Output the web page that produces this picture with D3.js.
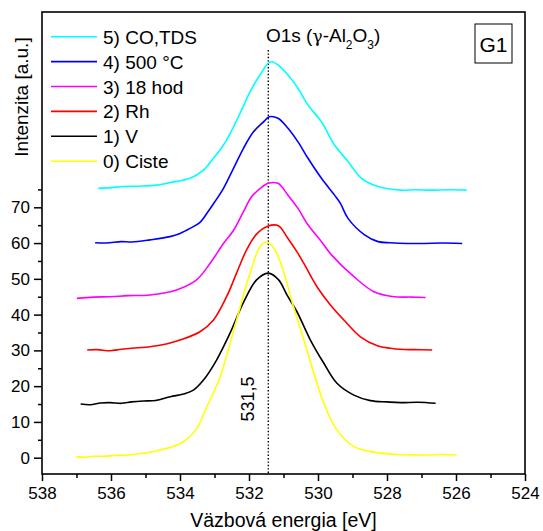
<!DOCTYPE html>
<html><head><meta charset="utf-8">
<script src="https://cdn.jsdelivr.net/npm/d3@7"></script>
<style>
html,body{margin:0;padding:0;background:#fff;}
text{font-family:"Liberation Sans",Arial,sans-serif;fill:#000;}
</style></head>
<body><svg id="c" width="543" height="531"></svg>
<script>
// ---- data ----
const seriesNames = ["0) Ciste","1) V","2) Rh","3) 18 hod","4) 500 °C","5) CO,TDS"];
const seriesColors = ["#ffff00","#000000","#ff0000","#ff00ff","#0000ff","#00ffff"];

const eCiste = [537.0,536.8,536.5,536.2,535.9,535.54,535.0,534.57,534.09,533.8,533.51,533.22,532.84,532.36,531.97,531.68,531.49,531.3,531.09,530.71,530.41,530.12,529.83,529.45,528.96,528.48,528.1,527.8,527.3,526.83,526.4,525.98];
const iCiste = [0.3,0.1,0.4,0.4,0.6,0.75,1.3,2.15,3.55,5.2,8.2,14.3,22.5,38.5,51.6,59.0,60.3,58.8,54.8,42.2,32.9,23.6,15.2,7.7,3.1,1.7,1.2,0.95,0.8,0.75,0.9,0.75];

const eV = [536.88,536.6,536.3,536.03,535.7,535.4,535.06,534.7,534.28,533.9,533.61,533.32,532.94,532.55,532.17,531.78,531.44,531.14,530.9,530.61,530.22,529.83,529.45,528.96,528.48,528.0,527.61,527.1,526.59];
const iV = [15.0,14.8,15.3,15.4,15.2,15.6,15.85,16.0,17.05,17.8,18.9,21.7,27.3,34.8,43.2,49.7,51.6,49.7,45.5,40.8,32.9,26.4,20.8,17.5,15.95,15.6,15.4,15.5,15.2];

const eRh = [536.69,536.4,536.03,535.7,535.4,534.87,534.4,534.0,533.42,533.03,532.65,532.36,532.07,531.78,531.46,531.16,530.87,530.58,530.41,530.03,529.64,529.25,528.77,528.28,527.9,527.61,527.2,526.69];
const iRh = [30.1,30.2,29.9,30.3,30.6,31.0,31.8,32.9,35.2,38.5,45.0,51.6,58.1,62.5,64.7,64.9,61.3,57.1,54.3,47.8,42.7,38.5,33.8,31.3,30.6,30.3,30.2,30.1];

const eHod = [536.99,536.5,536.03,535.5,534.87,534.1,533.52,533.13,532.74,532.45,532.16,531.92,531.68,531.44,531.16,530.87,530.58,530.29,529.9,529.61,528.96,528.38,527.8,527.3,526.88];
const iHod = [44.55,44.9,45.0,45.3,45.5,46.9,49.7,54.3,59.9,63.5,68.8,73.0,75.2,76.7,76.7,73.4,69.7,65.1,60.4,56.7,50.6,46.4,45.0,44.9,44.8];

const e500 = [536.46,536.2,536.03,535.7,535.4,534.87,534.29,534.0,533.71,533.42,533.2,533.0,532.74,532.45,532.16,531.87,531.58,531.41,531.16,530.87,530.58,530.29,529.9,529.52,529.35,529.13,528.65,528.26,527.9,527.4,526.93,526.4,525.82];
const i500 = [60.1,60.0,60.1,60.4,60.3,60.9,61.8,62.7,64.1,65.8,68.6,71.4,75.3,80.9,86.5,91.1,93.9,95.3,94.9,92.1,88.3,83.7,78.1,73.4,71.1,66.9,62.3,60.4,60.1,59.9,59.9,60.0,59.9];

const eTds = [536.37,536.0,535.64,535.2,534.67,534.29,533.71,533.32,533.03,532.74,532.5,532.2,531.97,531.68,531.44,531.33,531.16,530.87,530.58,530.29,529.9,529.52,529.13,528.74,528.26,527.61,527.2,526.74,526.2,525.69];
const iTds = [75.3,75.5,75.8,75.9,76.2,76.9,78.1,80.4,83.7,87.4,91.5,97.5,102.3,107.0,110.3,110.7,109.8,107.0,103.3,98.6,93.9,87.4,82.8,78.1,75.8,74.8,74.9,74.8,74.9,74.8];

const xMajorTicks = [538,536,534,532,530,528,526,524];
const xMinorTicks = [537,535,533,531,529,527,525];
const yMajorTicks = [0,10,20,30,40,50,60,70];
const yMinorTicks = [5,15,25,35,45,55,65,75];
const peakLine = 531.44;
const peakLabel = "531,5";

// ---- layout ----
const L=42, R=525, T=12, B=474;
const svg = d3.select("#c");
const x = d3.scaleLinear().domain([538,524]).range([L,R]);
const y = d3.scaleLinear().domain([-4.56,124.6]).range([B,T]);

const seriesE = [eCiste,eV,eRh,eHod,e500,eTds];
const seriesI = [iCiste,iV,iRh,iHod,i500,iTds];
const series = seriesNames.map((n,k)=>({name:n,color:seriesColors[k],pts:seriesE[k].map((e,j)=>[e,seriesI[k][j]])}));

const line = d3.line().x(d=>x(d[0])).y(d=>y(d[1])).curve(d3.curveCatmullRom.alpha(0.5));

// dotted line
svg.append("line").attr("x1",x(peakLine)).attr("x2",x(peakLine)).attr("y1",50).attr("y2",B)
  .attr("stroke","#000").attr("stroke-width",1.4).attr("stroke-dasharray","1.4,2");

series.slice().reverse().forEach(s=>{
  svg.append("path").attr("d",line(s.pts.slice().sort((a,b)=>a[0]-b[0])))
    .attr("fill","none").attr("stroke",s.color).attr("stroke-width",1.6).attr("stroke-linejoin","round");
});

// axes
const xAxis = d3.axisBottom(x).tickValues(xMajorTicks).tickSize(7).tickPadding(6).tickFormat(d3.format("d"));
const gx = svg.append("g").attr("transform",`translate(0,${B})`).call(xAxis);
gx.append("g").call(d3.axisBottom(x).tickValues(xMinorTicks).tickSize(4).tickFormat(""));
const yAxis = d3.axisLeft(y).tickValues(yMajorTicks).tickSize(8).tickPadding(4).tickFormat(d3.format("d"));
const gy = svg.append("g").attr("transform",`translate(${L},0)`).call(yAxis);
gy.append("g").call(d3.axisLeft(y).tickValues(yMinorTicks).tickSize(4).tickFormat(""));
svg.selectAll(".domain").remove();
svg.selectAll(".tick line").attr("stroke","#000").attr("stroke-width",1.5);
svg.selectAll(".tick text").style("font-size","17px").attr("fill","#000");

// frame
svg.append("rect").attr("x",L).attr("y",T).attr("width",R-L).attr("height",B-T)
  .attr("fill","none").attr("stroke","#000").attr("stroke-width",1.6);

// axis titles
svg.append("text").attr("x",(L+R)/2).attr("y",527).attr("text-anchor","middle")
  .style("font-size","19.5px").text("Väzbová energia [eV]");
svg.append("text").attr("transform","translate(28,97) rotate(-90)").attr("text-anchor","middle")
  .style("font-size","19px").text("Intenzita [a.u.]");

// legend
const lg = svg.append("g");
series.slice().reverse().forEach((s,i)=>{
  const yy = 36.7 + i*24.9;
  lg.append("line").attr("x1",51).attr("x2",97).attr("y1",yy).attr("y2",yy)
    .attr("stroke",s.color).attr("stroke-width",1.6);
  lg.append("text").attr("x",103).attr("y",yy+7).style("font-size","19px").text(s.name);
});

// peak annotation
const t = svg.append("text").attr("x",266).attr("y",41.7).style("font-size","19px");
t.append("tspan").text("O1s (");
t.append("tspan").text("γ").style("font-family","DejaVu Serif, serif").style("font-size","17px");
t.append("tspan").text("-Al");
t.append("tspan").text("2").attr("dy",7).style("font-size","12px");
t.append("tspan").text("O").attr("dy",-7);
t.append("tspan").text("3").attr("dy",7).style("font-size","12px");
t.append("tspan").text(")").attr("dy",-7);

svg.append("text").attr("transform",`translate(${x(peakLine)-14},399) rotate(-90)`)
  .attr("text-anchor","middle").style("font-size","18px").text(peakLabel);

// G1 box
svg.append("rect").attr("x",475).attr("y",24).attr("width",37).attr("height",39)
  .attr("fill","#fff").attr("stroke","#000").attr("stroke-width",1);
svg.append("text").attr("x",493.5).attr("y",52).attr("text-anchor","middle").style("font-size","21px").text("G1");
</script></body></html>
